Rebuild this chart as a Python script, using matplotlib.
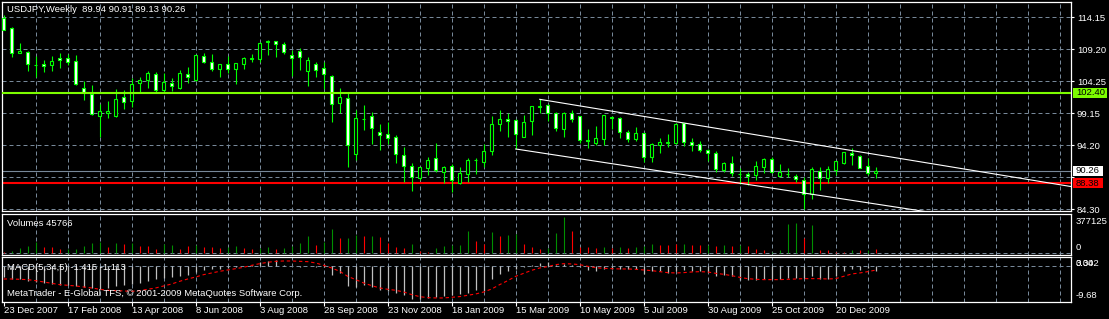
"""USDJPY weekly candlestick chart in the MetaTrader black style."""

import matplotlib
matplotlib.use("Agg")
import matplotlib.pyplot as plt
from matplotlib.patches import Rectangle

W, H = 1109, 319
FONT = ["Liberation Sans", "DejaVu Sans"]
FS = 6.8

BG = "#000000"
FG = "#ffffff"
CANDLE = "#00ff00"
GRID = "#778899"

SYMBOL_TEXT = "USDJPY,Weekly  89.94 90.91 89.13 90.26"
VOLUME_TEXT = "Volumes 45766"
MACD_TEXT = "MACD(5,34,5) -1.415 -1.113"
COPYRIGHT_TEXT = "MetaTrader - E-Global TFS, \u00a9 2001-2009 MetaQuotes Software Corp."

# weekly OHLC, first bar = week of 23 Dec 2007
opens = [113.98, 112.43, 108.54, 108.70, 106.78, 106.88, 106.67, 107.77, 107.77, 107.35,
         103.10, 102.17, 98.75, 99.22, 98.85, 101.70, 101.19, 103.88, 104.35, 105.28,
         102.90, 103.88, 103.16, 105.28, 104.40, 108.08, 107.14, 106.16, 106.83, 106.06,
         106.83, 107.66, 107.61, 110.25, 110.41, 109.94, 108.23, 108.91, 105.85, 106.83,
         106.21, 104.97, 100.88, 101.55, 92.95, 98.29, 98.85, 96.26, 95.95, 95.54,
         92.69, 91.03, 89.22, 90.67, 92.22, 90.05, 90.98, 88.44, 89.74, 91.91,
         91.70, 93.41, 97.61, 98.34, 98.13, 95.59, 98.07, 100.25, 100.46, 99.22,
         96.83, 99.22, 98.75, 95.02, 94.66, 95.28, 98.60, 98.44, 96.26, 95.28,
         96.11, 92.38, 94.24, 94.66, 94.66, 97.66, 94.71, 94.45, 93.47, 93.00,
         90.46, 91.44, 89.84, 89.79, 89.68, 90.93, 92.12, 89.53, 89.79, 89.53,
         88.80, 86.63, 90.25, 89.22, 90.41, 91.55, 93.05, 92.59, 91.03, 89.94]
highs = [114.50, 112.69, 110.20, 108.96, 108.13, 107.50, 108.13, 108.54, 108.39, 108.23,
         104.19, 103.62, 100.62, 101.13, 103.00, 102.84, 104.66, 104.81, 105.80, 105.59,
         105.43, 104.66, 105.95, 106.47, 108.33, 108.54, 108.39, 106.83, 108.13, 106.99,
         108.03, 108.39, 110.25, 110.62, 110.51, 110.25, 109.06, 109.32, 107.92, 107.20,
         107.20, 105.12, 103.16, 102.33, 99.74, 100.51, 99.48, 97.56, 97.82, 95.85,
         94.04, 91.44, 90.93, 92.38, 94.55, 91.03, 91.34, 90.82, 92.27, 92.32,
         94.45, 98.80, 99.74, 99.22, 98.29, 98.96, 100.36, 101.45, 100.62, 99.37,
         99.48, 99.68, 98.85, 96.78, 97.30, 98.96, 98.80, 98.70, 96.63, 97.14,
         96.21, 94.66, 95.38, 96.00, 97.66, 97.77, 95.38, 94.97, 93.62, 93.36,
         91.65, 92.59, 90.67, 90.10, 91.86, 92.27, 92.38, 91.34, 90.67, 89.74,
         89.37, 90.93, 90.93, 91.08, 91.81, 93.26, 93.78, 92.74, 92.22, 90.91]
lows = [112.10, 107.92, 108.54, 105.85, 104.92, 105.69, 105.80, 106.32, 106.73, 103.62,
        101.29, 98.96, 95.59, 98.54, 98.70, 99.89, 100.25, 102.48, 103.21, 102.58,
        102.58, 102.74, 103.00, 103.88, 104.29, 107.04, 105.85, 104.92, 105.54, 103.72,
        106.06, 107.25, 107.25, 108.28, 108.03, 108.44, 105.07, 105.95, 103.47, 104.81,
        103.00, 97.87, 99.22, 90.93, 91.96, 96.63, 94.45, 93.52, 94.45, 91.55,
        88.60, 87.20, 88.85, 89.63, 90.15, 88.44, 87.04, 88.23, 88.60, 89.74,
        90.93, 92.74, 96.52, 95.59, 93.62, 95.49, 95.85, 99.22, 98.07, 96.47,
        95.54, 97.92, 94.55, 93.83, 94.29, 94.35, 96.73, 95.44, 94.81, 94.97,
        91.70, 91.65, 93.10, 94.04, 94.45, 94.19, 93.41, 93.26, 91.86, 90.15,
        90.15, 89.53, 88.18, 88.03, 88.80, 89.99, 89.94, 89.37, 89.37, 88.60,
        84.35, 85.85, 87.30, 88.34, 89.63, 91.34, 91.19, 90.67, 89.63, 89.13]
closes = [112.17, 108.54, 108.91, 106.83, 106.80, 106.52, 107.35, 107.46, 107.14, 103.72,
          102.58, 99.06, 99.58, 99.58, 101.45, 100.93, 103.72, 104.35, 105.43, 102.79,
          104.09, 103.41, 105.43, 104.92, 108.23, 107.25, 106.06, 106.83, 106.16, 106.99,
          107.77, 107.77, 110.10, 110.41, 109.94, 108.70, 107.77, 107.92, 107.51, 106.00,
          105.28, 100.62, 101.76, 94.35, 98.44, 98.34, 96.99, 95.90, 95.44, 92.84,
          91.08, 89.37, 90.82, 91.96, 90.36, 90.82, 88.80, 89.89, 91.91, 92.01,
          93.36, 97.51, 98.34, 97.97, 95.95, 97.82, 100.36, 100.31, 99.22, 96.99,
          99.22, 98.39, 95.12, 94.92, 95.38, 98.90, 98.49, 96.26, 95.18, 96.11,
          92.38, 94.45, 94.71, 94.71, 97.56, 94.81, 94.35, 93.57, 93.00, 90.62,
          91.50, 89.89, 89.79, 89.42, 91.03, 92.12, 90.15, 90.10, 89.84, 88.96,
          86.63, 90.51, 89.11, 90.51, 91.76, 93.15, 92.69, 90.77, 89.89, 90.26]

volumes = [10000, 17000, 52000, 73000, 114000, 62000, 62000, 38000, 42000, 45000,
           73000, 100000, 114000, 62000, 104000, 97000, 107000, 73000, 73000, 45000,
           97000, 87000, 38000, 73000, 87000, 66000, 66000, 55000, 66000, 76000,
           55000, 45000, 55000, 66000, 45000, 55000, 76000, 104000, 180000, 87000,
           118000, 253000, 159000, 159000, 190000, 180000, 180000, 170000, 107000, 66000,
           55000, 97000, 21000, 14000, 55000, 76000, 87000, 87000, 232000, 128000,
           97000, 221000, 180000, 190000, 201000, 90000, 66000, 45000, 55000, 211000,
           377125, 232000, 66000, 66000, 55000, 66000, 55000, 66000, 55000, 66000,
           76000, 97000, 87000, 87000, 90000, 97000, 87000, 87000, 87000, 76000,
           87000, 76000, 87000, 76000, 45000, 35000, 14000, 35000, 305000, 315000,
           159000, 294000, 35000, 35000, 14000, 14000, 35000, 35000, 35000, 45766]
# 1 = green bar (volume up), 0 = red bar
volume_rising = [0, 1, 1, 1, 1, 0, 0, 0, 1, 1,
                 1, 1, 1, 0, 1, 0, 1, 0, 0, 0,
                 1, 1, 0, 0, 1, 0, 0, 0, 1, 1,
                 0, 0, 1, 1, 0, 1, 1, 1, 1, 0,
                 1, 1, 0, 1, 1, 0, 1, 0, 0, 0,
                 0, 1, 0, 0, 1, 1, 1, 1, 1, 0,
                 0, 1, 0, 1, 1, 0, 0, 0, 1, 1,
                 1, 0, 0, 0, 0, 1, 0, 1, 0, 1,
                 1, 1, 0, 0, 0, 1, 0, 0, 1, 0,
                 1, 0, 1, 0, 0, 0, 1, 1, 1, 1,
                 0, 1, 0, 0, 0, 0, 1, 0, 1, 0]

macd_main = [-3.24, -3.63, -3.82, -4.22, -4.61, -4.90, -5.20, -5.39, -5.59, -5.88,
             -6.08, -6.37, -6.57, -6.37, -5.88, -5.59, -5.20, -4.80, -4.22, -3.82,
             -3.43, -3.14, -2.75, -2.45, -1.67, -1.08, -0.88, -0.69, -0.49, -0.29,
             0.10, 0.49, 1.27, 1.67, 1.76, 0.30, 0.10, -0.10, 0.20, -0.10,
             -0.29, -2.45, -1.96, -5.88, -6.08, -5.59, -6.18, -6.86, -7.35, -7.84,
             -8.53, -9.68, -9.51, -9.31, -9.12, -8.82, -8.53, -8.14, -7.84, -6.86,
             -7.35, -3.63, -2.25, -1.47, -0.69, -0.29, 0.29, 0.98, 1.18, 0.49,
             0.69, 0.29, -0.29, -0.98, -1.27, -0.78, -0.78, -0.78, -0.78, -0.78,
             -2.25, -1.47, -1.47, -1.96, -1.47, -1.18, -1.27, -1.47, -1.67, -2.94,
             -2.45, -2.94, -3.92, -3.92, -3.92, -3.73, -3.73, -3.63, -3.43, -3.43,
             -3.43, -2.94, -3.63, -3.63, -2.94, -1.47, -0.78, -0.98, -0.49, -1.415]
macd_signal = [-3.73, -3.73, -3.82, -3.92, -4.22, -4.61, -5.00, -5.39, -5.59, -5.78,
               -6.08, -6.37, -6.76, -7.06, -7.16, -7.25, -7.35, -7.16, -6.76, -6.37,
               -5.78, -5.20, -4.41, -3.73, -3.14, -2.45, -1.96, -1.47, -1.08, -0.69,
               -0.29, 0.29, 0.78, 1.18, 1.47, 1.57, 1.57, 1.47, 1.37, 0.98,
               0.29, -0.49, -1.47, -2.94, -3.92, -4.90, -5.69, -6.37, -6.76, -7.06,
               -7.55, -8.33, -8.92, -9.22, -9.31, -9.31, -9.12, -8.92, -8.53, -8.14,
               -7.55, -6.67, -5.39, -4.22, -2.94, -2.06, -1.18, -0.49, -0.10, 0.49,
               0.78, 0.69, 0.49, 0.00, -0.39, -0.59, -0.69, -0.78, -0.78, -0.88,
               -1.08, -1.27, -1.57, -1.86, -1.96, -1.86, -1.67, -1.57, -1.67, -2.06,
               -2.35, -2.75, -3.24, -3.63, -3.82, -3.92, -3.92, -3.92, -3.82, -3.73,
               -3.63, -3.63, -3.63, -3.73, -3.63, -2.94, -2.25, -1.96, -1.57, -1.113]

date_labels = ["23 Dec 2007", "17 Feb 2008", "13 Apr 2008", "8 Jun 2008", "3 Aug 2008",
               "28 Sep 2008", "23 Nov 2008", "18 Jan 2009", "15 Mar 2009", "10 May 2009",
               "5 Jul 2009", "30 Aug 2009", "25 Oct 2009", "20 Dec 2009"]
price_ticks = [84.30, 89.275, 94.25, 99.225, 104.20, 109.175, 114.15]
price_tick_labels = ["84.30", "", "94.20", "99.15", "104.25", "109.20", "114.15"]

resistance_level = 102.40
support_level = 88.38
bid_level = 90.26

# trend channel anchors: (bar index, price)
upper_channel = [(67, 101.40), (120, 90.58)]
lower_channel = [(64, 93.68), (110, 84.94)]

XLIM = (-0.21, 133.41)


def fig_box(left, top, right, bottom):
    return [left / W, 1 - bottom / H, (right - left) / W, (bottom - top) / H]


def px_text(fig, x, y, s, **kw):
    kw.setdefault("color", FG)
    kw.setdefault("fontsize", FS)
    kw.setdefault("family", FONT)
    fig.text(x / W, 1 - y / H, s, ha=kw.pop("ha", "left"), va=kw.pop("va", "center"), **kw)


def style_panel(ax):
    ax.set_facecolor(BG)
    ax.set_xlim(*XLIM)
    for spine in ax.spines.values():
        spine.set_color(FG)
        spine.set_linewidth(0.9)
    ax.tick_params(left=False, bottom=False, labelleft=False, labelbottom=False)
    grid_x = list(range(4, int(XLIM[1]) + 1, 4))
    ax.vlines(grid_x, 0, 1, transform=ax.get_xaxis_transform(), colors=GRID,
              linewidth=0.72, linestyles=(0, (4, 3)), zorder=0)


def ray(ax, anchors):
    (x0, y0), (x1, y1) = anchors
    slope = (y1 - y0) / (x1 - x0)
    x_end = XLIM[1]
    ax.plot([x0, x_end], [y0, y0 + slope * (x_end - x0)], color=FG, linewidth=0.8, zorder=4)


def draw_candles(ax):
    n = len(opens)
    ax.vlines(range(n), lows, highs, colors=CANDLE, linewidth=0.8, zorder=2)
    width = 0.42
    for i in range(n):
        o, c = opens[i], closes[i]
        fill = FG if c < o else BG
        ax.add_patch(Rectangle((i - width / 2, min(o, c)), width, abs(c - o),
                               facecolor=fill, edgecolor=CANDLE, linewidth=0.8, zorder=3))


def level_box(fig, ax, price, text, face, width_px):
    y = ax.transData.transform((0, price))[1]
    h = 10.5
    fig.add_artist(Rectangle((1073 / W, (y - h / 2) / H), width_px / W, h / H,
                             transform=fig.transFigure, facecolor=face, edgecolor="none"))
    fig.text(1076 / W, y / H, text, color="#000000", fontsize=FS, family=FONT,
             ha="left", va="center")


def main():
    fig = plt.figure(figsize=(W / 100, H / 100), dpi=100, facecolor=BG)

    ax = fig.add_axes(fig_box(2, 2.3, 1071, 211))
    style_panel(ax)
    ax.set_ylim(84.04, 116.48)
    ax.set_yticks(price_ticks)
    ax.set_yticklabels(price_tick_labels)
    ax.yaxis.tick_right()
    ax.tick_params(axis="y", right=True, labelright=True, length=2.2, width=0.8,
                   color=FG, labelcolor=FG, labelsize=FS, pad=2.0)
    for lab in ax.get_yticklabels():
        lab.set_family(FONT)
    ax.hlines(price_ticks, 0, 1, transform=ax.get_yaxis_transform(), colors=GRID,
              linewidth=0.72, linestyles=(0, (4, 3)), zorder=0)

    ax.axhline(bid_level, color=GRID, linewidth=0.8, zorder=1)
    ax.axhline(support_level, color="#ff0000", linewidth=1.5, zorder=1)
    draw_candles(ax)
    ax.axhline(resistance_level, color="#7cfc00", linewidth=1.5, zorder=5)
    ray(ax, upper_channel)
    ray(ax, lower_channel)

    px_text(fig, 7, 10, SYMBOL_TEXT)

    # volumes
    axv = fig.add_axes(fig_box(2, 213.5, 1071, 254.5))
    style_panel(axv)
    axv.set_ylim(-15700, 413800)
    vol_colors = ["#008f00" if up else "#ff0000" for up in volume_rising]
    axv.vlines(range(len(volumes)), 0, volumes, colors=vol_colors, linewidth=0.8, zorder=2)
    axv.axhline(0, color=GRID, linewidth=0.72, linestyle=(0, (4, 3)), zorder=1)
    px_text(fig, 7, 223.7, VOLUME_TEXT)
    px_text(fig, 1076, 221.3, f"{max(volumes)}")
    px_text(fig, 1076, 247.3, "0")

    # MACD
    axm = fig.add_axes(fig_box(2, 257, 1071, 302.3))
    style_panel(axm)
    axm.set_ylim(-10.59, 2.74)
    axm.axhline(0, color=GRID, linewidth=0.72, linestyle=(0, (4, 3)), zorder=1)
    axm.vlines(range(len(macd_main)), 0, macd_main, colors="#c0c0c0", linewidth=0.9, zorder=2)
    axm.plot(range(len(macd_signal)), macd_signal, color="#ff0000", linewidth=0.8,
             linestyle=(0, (3, 2.5)), zorder=3)
    px_text(fig, 7, 267, MACD_TEXT)
    px_text(fig, 7, 293.8, COPYRIGHT_TEXT)
    px_text(fig, 1076, 263.5, "3.342")
    px_text(fig, 1076, 263.5, "0.00")
    px_text(fig, 1076, 295.3, "-9.68")

    # date axis
    date_pos = [8 * k for k in range(len(date_labels))]
    axm.set_xticks(date_pos)
    axm.tick_params(axis="x", bottom=True, length=3, width=0.8, color=FG, labelbottom=False)
    for pos, lab in zip(date_pos, date_labels):
        axm.text(pos, -0.17, lab, transform=axm.get_xaxis_transform(), color=FG,
                 fontsize=FS, family=FONT, ha="left", va="center", clip_on=False)

    level_box(fig, ax, resistance_level, "102.40", "#7cfc00", 34)
    level_box(fig, ax, bid_level, "90.26", FG, 30)
    level_box(fig, ax, support_level, "88.38", "#ff0000", 30)

    fig.savefig("out.png", dpi=100, facecolor=BG)
    plt.close(fig)


if __name__ == "__main__":
    main()
